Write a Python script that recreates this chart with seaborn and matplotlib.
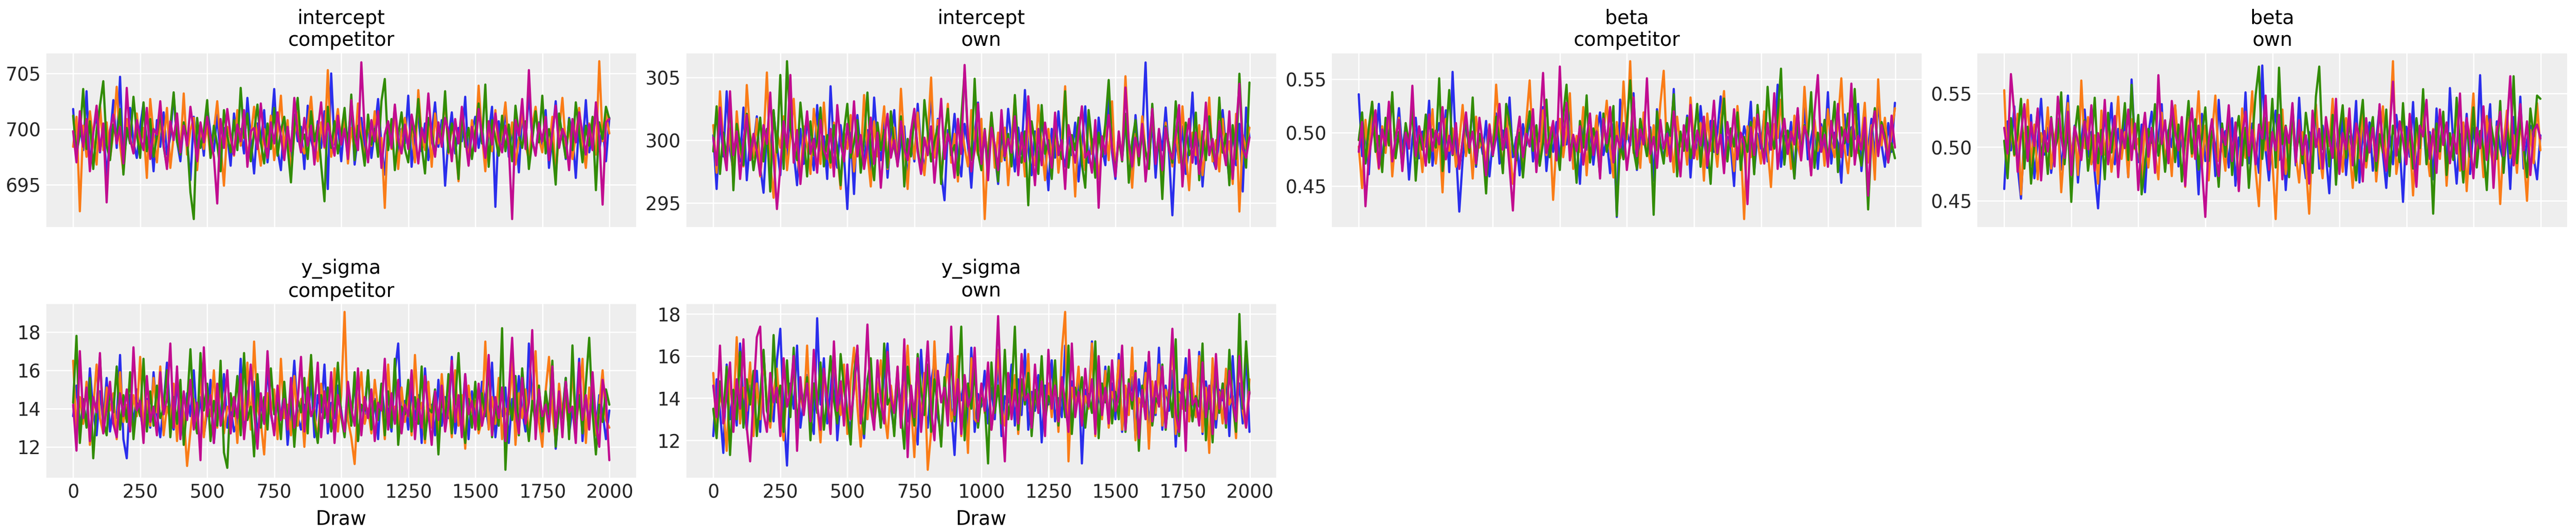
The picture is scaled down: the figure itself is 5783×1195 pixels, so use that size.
import numpy as np
import pandas as pd
import matplotlib.pyplot as plt
import seaborn as sns
from matplotlib.ticker import MultipleLocator, FormatStrFormatter

# Panel labels
PARAMS = ["intercept", "intercept", "beta", "beta", "y_sigma", "y_sigma"]
GROUPS = ["competitor", "own", "competitor", "own", "competitor", "own"]
CHAINS = [0, 1, 2, 3]
CHAIN_COLORS = ["#2a2eec", "#fa7c17", "#328c06", "#c10c90"]
DRAW_TICKS = [0, 250, 500, 750, 1000, 1250, 1500, 1750, 2000]
Y_STEPS = [5, 5, 0.05, 0.05, 2, 2]
Y_FORMATS = ["%d", "%d", "%.2f", "%.2f", "%d", "%d"]

# Trace values (about one value every 12.5 draws)
int_comp_c0 = [701.8, 697.2, 700.9, 698.1, 703.4, 696.5, 699.8, 701.2, 697.9, 700.4,
               695.8, 699.1, 702.6, 698.3, 704.7, 696.9, 699.5, 701.9, 698.8, 697.4,
               700.2, 702.3, 698.6, 699.9, 696.2, 700.8, 698.4, 701.5, 697.7, 699.3,
               703.1, 698.9, 697.1, 700.6, 699.0, 695.4, 701.1, 698.2, 700.3, 697.6,
               702.0, 699.6, 698.0, 701.3, 697.3, 700.1, 699.4, 696.7, 701.4, 698.5,
               700.0, 697.8, 702.8, 699.2, 696.0, 700.5, 698.7, 701.7, 697.0, 699.7,
               703.6, 698.1, 696.3, 700.9, 699.3, 697.5, 701.3, 698.9, 700.2, 696.4,
               702.1, 699.0, 697.9, 700.7, 698.3, 701.6, 694.6, 705.0, 698.6, 700.4,
               697.1, 700.9, 698.8, 702.2, 696.8, 699.4, 701.0, 698.2, 700.6, 697.4,
               699.9, 702.7, 698.5, 695.9, 700.3, 699.1, 701.8, 697.6, 700.0, 698.7,
               703.0, 696.6, 699.8, 701.2, 698.0, 700.5, 697.2, 699.6, 702.4, 698.4,
               700.8, 694.9, 699.2, 701.5, 697.8, 700.1, 698.9, 702.9, 696.9, 699.7,
               701.1, 698.3, 700.4, 697.0, 699.5, 702.0, 693.0, 700.7, 698.6, 701.9,
               697.5, 699.9, 700.2, 696.1, 701.4, 698.8, 703.3, 699.0, 697.7, 700.6,
               698.1, 701.7, 696.5, 699.3, 702.5, 698.4, 700.0, 697.3, 701.0, 699.6,
               695.6, 700.8, 698.2, 702.6, 697.9, 699.4, 701.3, 698.0, 700.3, 697.1, 701.0]
int_comp_c1 = [698.4, 701.1, 692.6, 700.3, 697.5, 701.6, 699.0, 696.8, 702.2, 698.1,
               700.6, 697.3, 699.7, 703.8, 698.6, 696.1, 700.9, 699.2, 697.9, 701.4,
               698.3, 700.1, 695.6, 702.7, 699.5, 697.0, 700.8, 698.8, 701.9, 696.5,
               699.4, 700.5, 698.0, 703.2, 697.7, 699.9, 701.0, 696.3, 700.2, 698.2,
               700.4, 697.4, 699.8, 702.5, 698.7, 694.9, 700.2, 699.1, 697.6, 701.7,
               698.5, 700.7, 697.6, 699.3, 702.0, 698.9, 696.7, 700.0, 698.4, 701.2,
               697.2, 699.6, 703.0, 698.1, 700.8, 696.0, 699.5, 701.5, 698.6, 697.8,
               700.3, 702.9, 699.0, 697.1, 700.6, 698.3, 705.3, 697.5, 699.7, 701.8,
               698.8, 701.3, 696.9, 700.1, 698.0, 702.3, 699.4, 697.3, 700.7, 698.5,
               701.6, 697.9, 699.2, 692.9, 700.5, 698.2, 702.1, 696.4, 699.8, 701.0,
               698.6, 700.0, 697.0, 703.5, 699.3, 698.1, 700.9, 696.6, 701.4, 698.7,
               699.6, 702.6, 697.8, 700.2, 698.9, 695.3, 701.2, 699.0, 697.4, 700.8,
               698.3, 703.9, 699.5, 696.2, 700.4, 698.0, 701.7, 697.6, 699.9, 702.4,
               698.4, 700.6, 696.8, 699.1, 701.5, 698.6, 697.2, 700.3, 702.0, 699.2,
               697.9, 700.7, 698.1, 701.1, 695.8, 699.7, 702.8, 698.5, 700.1, 697.3,
               699.4, 701.9, 698.8, 696.5, 700.5, 699.0, 697.7, 706.1, 698.9, 701.3, 699.6]
int_comp_c2 = [701.2, 697.8, 699.5, 703.6, 698.2, 700.7, 696.4, 699.9, 702.1, 704.3,
               698.5, 697.2, 700.4, 699.0, 701.8, 695.9, 700.1, 698.7, 702.9, 699.6,
               697.4, 702.4, 698.0, 700.9, 697.5, 699.3, 701.5, 698.4, 696.6, 700.2,
               703.3, 698.9, 697.7, 700.6, 699.1, 694.3, 691.9, 701.0, 698.3, 699.8,
               702.6, 697.4, 700.3, 698.6, 696.2, 701.7, 699.4, 697.9, 700.8, 698.1,
               703.7, 699.2, 701.4, 697.1, 699.7, 702.2, 698.8, 696.9, 700.5, 698.2,
               701.9, 697.6, 699.9, 701.1, 698.4, 695.2, 700.2, 702.8, 698.7, 699.5,
               697.3, 701.6, 698.9, 700.4, 696.8, 693.5, 702.0, 698.3, 700.7, 697.8,
               699.6, 701.9, 698.0, 703.1, 697.2, 700.3, 699.0, 696.7, 701.3, 698.6,
               700.0, 697.5, 702.5, 704.5, 698.1, 700.9, 696.3, 699.4, 701.5, 698.2,
               697.0, 700.6, 699.3, 702.7, 698.5, 696.0, 701.0, 699.8, 697.7, 700.2,
               698.9, 703.4, 697.9, 700.5, 699.1, 695.5, 701.8, 698.4, 700.1, 697.3,
               699.7, 702.3, 698.7, 704.0, 696.6, 700.8, 699.2, 697.6, 701.2, 698.0,
               700.4, 697.1, 702.1, 699.5, 698.3, 700.7, 696.4, 699.0, 701.6, 698.8,
               703.0, 697.8, 700.0, 698.6, 695.0, 701.4, 699.3, 697.4, 700.9, 698.1,
               702.4, 699.7, 697.0, 700.3, 698.5, 701.1, 694.5, 700.6, 699.1, 702.0, 700.9]
int_comp_c3 = [699.8, 697.0, 701.6, 698.4, 700.9, 696.2, 699.6, 702.1, 698.0, 700.5,
               693.4, 699.9, 701.3, 698.7, 700.2, 696.9, 703.7, 699.1, 697.8, 700.8,
               699.3, 698.1, 701.9, 697.3, 700.0, 699.5, 702.5, 698.6, 696.4, 700.7,
               699.0, 701.4, 697.9, 700.3, 698.5, 702.0, 699.7, 697.1, 700.6, 698.8,
               701.1, 699.2, 697.5, 693.3, 700.9, 698.3, 701.8, 699.4, 697.7, 700.4,
               698.9, 701.7, 696.6, 699.8, 700.1, 698.2, 702.3, 699.0, 697.4, 700.6,
               698.7, 701.5, 699.3, 697.2, 700.2, 698.0, 702.8, 699.6, 697.9, 701.0,
               698.5, 700.3, 696.8, 699.9, 702.4, 698.4, 700.5, 699.1, 697.6, 701.2,
               698.6, 700.0, 697.3, 702.6, 699.4, 698.1, 706.0, 699.7, 697.0, 700.8,
               698.9, 701.6, 696.5, 699.5, 700.7, 698.3, 702.2, 699.0, 697.8, 700.4,
               698.2, 701.3, 699.6, 696.9, 700.1, 698.8, 703.2, 699.2, 697.5, 700.6,
               698.4, 701.0, 699.8, 697.1, 700.9, 698.7, 702.0, 699.3, 696.7, 700.2,
               698.0, 701.8, 699.5, 697.4, 700.7, 698.6, 701.4, 699.1, 697.9, 700.3,
               698.5, 691.9, 700.8, 699.4, 702.7, 698.2, 705.3, 699.0, 697.6, 700.5,
               698.9, 701.1, 697.2, 699.7, 702.1, 698.3, 700.0, 699.2, 696.3, 700.9,
               698.8, 701.5, 699.6, 697.7, 700.4, 698.1, 702.4, 699.3, 693.2, 700.6, 700.9]

int_own_c0 = [300.4, 296.1, 301.8, 298.7, 303.9, 299.2, 297.5, 301.0, 298.3, 302.6,
              296.8, 300.1, 299.5, 301.9, 297.9, 295.8, 300.7, 298.9, 302.2, 299.6,
              297.2, 301.4, 298.5, 303.1, 299.0, 296.4, 300.9, 298.1, 301.6, 299.8,
              297.6, 302.8, 298.6, 300.3, 296.9, 304.3, 299.3, 297.8, 301.2, 298.8,
              294.5, 300.6, 295.7, 302.0, 299.1, 298.2, 300.8, 297.4, 303.4, 299.7,
              298.4, 301.5, 297.0, 300.2, 302.4, 298.0, 299.9, 301.1, 296.6, 300.5,
              298.3, 302.9, 299.4, 297.7, 300.0, 303.6, 298.9, 301.7, 297.3, 295.2,
              300.8, 299.2, 302.1, 298.6, 297.1, 301.3, 299.6, 296.2, 300.4, 303.0,
              298.7, 300.2, 297.8, 301.9, 299.0, 296.5, 300.6, 298.4, 302.5, 299.8,
              297.5, 301.0, 298.9, 304.0, 299.3, 297.2, 300.7, 298.1, 301.6, 299.5,
              296.0, 300.9, 298.6, 302.3, 299.1, 297.9, 300.3, 298.8, 301.4, 296.7,
              299.7, 302.7, 298.2, 300.1, 297.4, 301.8, 299.4, 298.0, 303.3, 299.0,
              296.9, 300.5, 298.5, 301.2, 299.9, 297.6, 302.0, 298.7, 300.4, 306.2,
              298.3, 301.5, 297.0, 300.8, 299.2, 302.6, 298.9, 294.0, 300.0, 298.4,
              301.1, 297.3, 299.6, 303.8, 298.1, 300.6, 296.3, 299.8, 301.9, 298.6,
              297.7, 300.2, 302.4, 299.3, 296.8, 300.9, 298.0, 301.3, 295.9, 302.6, 300.2]
int_own_c1 = [301.2, 297.4, 303.9, 299.8, 298.2, 300.9, 296.6, 302.3, 299.1, 297.9,
              304.4, 300.5, 298.6, 301.7, 297.1, 299.9, 305.4, 298.3, 295.4, 300.7,
              299.4, 301.9, 297.6, 300.2, 303.3, 298.8, 296.9, 301.1, 299.6, 297.3,
              302.5, 300.0, 298.1, 303.0, 299.2, 297.8, 301.4, 298.9, 296.1, 300.6,
              299.3, 302.0, 297.5, 300.3, 298.4, 303.6, 299.0, 296.3, 301.5, 298.7,
              300.1, 302.7, 297.7, 299.5, 301.0, 298.0, 304.1, 299.7, 296.1, 300.8,
              298.5, 302.2, 299.1, 297.2, 300.4, 305.0, 298.6, 301.6, 297.0, 299.8,
              302.9, 298.2, 300.5, 296.7, 301.3, 299.4, 297.9, 302.4, 300.0, 298.8,
              301.7, 293.7, 299.3, 302.1, 297.8, 300.6, 298.3, 301.0, 296.4, 299.7,
              303.5, 298.5, 300.2, 297.1, 301.8, 299.0, 298.0, 302.8, 299.6, 296.8,
              300.9, 298.6, 301.3, 297.4, 299.9, 304.3, 298.1, 300.4, 295.5, 301.6,
              299.2, 297.6, 302.2, 298.9, 300.7, 296.9, 299.5, 301.1, 298.4, 303.1,
              297.3, 300.1, 298.7, 305.1, 299.8, 296.2, 300.5, 298.0, 301.9, 299.1,
              297.7, 302.5, 298.5, 300.3, 296.6, 301.4, 299.4, 297.9, 300.8, 298.2,
              302.7, 299.0, 296.0, 300.6, 298.8, 301.2, 297.2, 299.6, 303.4, 298.3,
              300.0, 297.5, 301.7, 298.6, 299.9, 296.5, 302.1, 294.3, 300.4, 299.3, 301.0]
int_own_c2 = [299.1, 302.7, 297.3, 300.6, 298.5, 303.5, 296.0, 301.3, 299.7, 298.0,
              302.1, 300.2, 297.6, 299.4, 301.8, 298.3, 300.9, 295.9, 302.4, 299.0,
              305.2, 297.7, 306.3, 301.0, 299.6, 298.4, 303.0, 300.3, 297.1, 301.5,
              298.8, 299.9, 302.6, 297.9, 300.4, 298.2, 301.2, 299.3, 296.4, 300.7,
              302.9, 298.6, 299.8, 301.6, 297.4, 300.0, 303.8, 298.9, 296.8, 301.4,
              299.2, 300.8, 297.8, 302.3, 299.5, 298.1, 301.9, 296.3, 300.1, 298.7,
              302.0, 299.4, 297.5, 303.2, 300.6, 298.3, 299.9, 301.1, 296.5, 300.3,
              302.5, 298.8, 299.6, 297.2, 301.7, 305.5, 300.2, 298.4, 304.9, 299.0,
              297.6, 300.9, 298.0, 302.2, 299.3, 296.7, 301.3, 298.6, 300.5, 297.9,
              303.6, 299.1, 298.2, 300.7, 294.8, 301.5, 299.7, 297.3, 302.8, 298.9,
              300.0, 296.9, 301.0, 299.5, 298.5, 303.9, 297.8, 300.4, 299.2, 301.8,
              298.1, 296.2, 302.4, 299.8, 297.0, 300.6, 298.7, 301.3, 304.8, 299.4,
              297.5, 300.2, 298.3, 302.1, 296.6, 299.9, 301.6, 298.0, 300.8, 299.1,
              297.7, 302.9, 298.6, 300.3, 295.3, 301.1, 299.6, 298.2, 303.1, 300.0,
              297.2, 301.4, 298.8, 299.5, 302.2, 296.8, 300.7, 298.4, 301.9, 299.2,
              297.9, 303.4, 299.0, 300.5, 296.4, 301.2, 298.5, 305.3, 299.7, 297.8, 304.6]
int_own_c3 = [300.2, 298.0, 302.6, 299.3, 297.6, 303.9, 298.8, 300.7, 296.9, 299.9,
              302.0, 298.4, 300.5, 299.1, 297.2, 301.2, 299.7, 303.8, 298.6, 294.5,
              297.8, 301.5, 299.4, 305.2, 298.2, 300.8, 296.5, 299.6, 302.3, 298.9,
              300.1, 297.4, 301.6, 299.2, 298.5, 300.9, 297.1, 302.8, 299.8, 298.3,
              301.3, 299.0, 303.1, 298.7, 300.4, 297.7, 299.5, 301.8, 298.1, 300.6,
              296.2, 299.9, 302.1, 298.6, 300.0, 297.9, 301.5, 299.3, 298.4, 300.7,
              302.5, 299.1, 297.3, 300.2, 298.8, 301.1, 296.6, 299.7, 303.3, 298.5,
              300.5, 299.4, 297.0, 301.7, 298.9, 306.0, 300.3, 297.5, 299.2, 302.9,
              298.1, 300.8, 296.8, 301.0, 299.6, 297.6, 302.4, 298.7, 300.1, 299.0,
              301.9, 297.2, 300.6, 298.3, 303.5, 299.5, 296.4, 300.9, 298.0, 301.4,
              299.3, 297.8, 302.2, 298.8, 300.0, 296.1, 301.2, 299.7, 298.2, 300.5,
              302.7, 298.6, 299.1, 297.4, 301.6, 294.6, 300.3, 298.9, 302.0, 299.4,
              297.1, 300.7, 298.4, 304.2, 299.8, 297.9, 300.2, 298.7, 301.3, 296.7,
              299.5, 302.5, 298.1, 300.9, 297.6, 301.0, 299.2, 298.5, 300.4, 302.8,
              296.3, 299.9, 301.7, 298.2, 300.6, 297.3, 299.0, 303.0, 298.8, 300.1,
              297.7, 301.5, 299.6, 298.0, 302.3, 296.9, 300.8, 304.5, 299.3, 298.6, 300.2]

beta_comp_c0 = [0.536, 0.478, 0.503, 0.461, 0.517, 0.489, 0.527, 0.472, 0.498, 0.512,
                0.466, 0.491, 0.523, 0.483, 0.507, 0.456, 0.495, 0.514, 0.476, 0.501,
                0.487, 0.530, 0.469, 0.494, 0.509, 0.481, 0.521, 0.463, 0.557, 0.485,
                0.426, 0.474, 0.504, 0.490, 0.526, 0.468, 0.499, 0.480, 0.511, 0.459,
                0.493, 0.518, 0.471, 0.502, 0.486, 0.533, 0.477, 0.496, 0.460, 0.508,
                0.488, 0.515, 0.473, 0.500, 0.492, 0.524, 0.464, 0.497, 0.482, 0.510,
                0.475, 0.503, 0.489, 0.528, 0.467, 0.495, 0.452, 0.512, 0.484, 0.506,
                0.470, 0.499, 0.519, 0.479, 0.494, 0.462, 0.508, 0.421, 0.531, 0.476,
                0.501, 0.488, 0.537, 0.465, 0.497, 0.513, 0.480, 0.505, 0.455, 0.522,
                0.491, 0.474, 0.509, 0.484, 0.541, 0.469, 0.498, 0.486, 0.516, 0.458,
                0.503, 0.478, 0.525, 0.493, 0.467, 0.511, 0.482, 0.500, 0.534, 0.472,
                0.496, 0.487, 0.450, 0.514, 0.479, 0.506, 0.492, 0.529, 0.463, 0.499,
                0.485, 0.519, 0.473, 0.504, 0.490, 0.545, 0.468, 0.497, 0.481, 0.510,
                0.457, 0.502, 0.488, 0.523, 0.475, 0.495, 0.512, 0.466, 0.508, 0.483,
                0.538, 0.471, 0.500, 0.490, 0.453, 0.517, 0.479, 0.505, 0.494, 0.527,
                0.464, 0.498, 0.486, 0.513, 0.476, 0.532, 0.489, 0.468, 0.509, 0.482, 0.528]
beta_comp_c1 = [0.487, 0.448, 0.512, 0.475, 0.529, 0.493, 0.466, 0.506, 0.481, 0.520,
                0.459, 0.497, 0.514, 0.470, 0.502, 0.488, 0.534, 0.476, 0.495, 0.463,
                0.509, 0.485, 0.522, 0.471, 0.499, 0.444, 0.513, 0.483, 0.504, 0.468,
                0.491, 0.526, 0.478, 0.500, 0.457, 0.515, 0.486, 0.494, 0.473, 0.508,
                0.480, 0.545, 0.498, 0.465, 0.517, 0.489, 0.452, 0.474, 0.503, 0.461,
                0.511, 0.549, 0.484, 0.496, 0.469, 0.521, 0.479, 0.505, 0.437, 0.492,
                0.513, 0.477, 0.501, 0.537, 0.466, 0.497, 0.482, 0.524, 0.460, 0.506,
                0.488, 0.516, 0.473, 0.499, 0.530, 0.485, 0.458, 0.510, 0.476, 0.548,
                0.494, 0.567, 0.481, 0.503, 0.467, 0.519, 0.490, 0.472, 0.507, 0.484,
                0.527, 0.558, 0.478, 0.498, 0.463, 0.515, 0.487, 0.500, 0.470, 0.533,
                0.492, 0.475, 0.509, 0.455, 0.518, 0.483, 0.496, 0.468, 0.511, 0.539,
                0.480, 0.502, 0.464, 0.525, 0.489, 0.419, 0.506, 0.477, 0.514, 0.493,
                0.471, 0.520, 0.486, 0.449, 0.508, 0.495, 0.531, 0.479, 0.501, 0.466,
                0.516, 0.488, 0.474, 0.543, 0.497, 0.460, 0.512, 0.483, 0.505, 0.469,
                0.522, 0.490, 0.477, 0.510, 0.551, 0.485, 0.462, 0.499, 0.517, 0.481,
                0.494, 0.528, 0.472, 0.507, 0.456, 0.550, 0.488, 0.514, 0.476, 0.500, 0.523]
beta_comp_c2 = [0.493, 0.519, 0.471, 0.505, 0.529, 0.482, 0.497, 0.463, 0.514, 0.488,
                0.538, 0.476, 0.501, 0.467, 0.509, 0.490, 0.523, 0.455, 0.498, 0.484,
                0.517, 0.472, 0.503, 0.486, 0.551, 0.464, 0.495, 0.540, 0.479, 0.506,
                0.468, 0.492, 0.512, 0.481, 0.533, 0.470, 0.499, 0.487, 0.443, 0.504,
                0.478, 0.515, 0.494, 0.462, 0.527, 0.510, 0.485, 0.474, 0.500, 0.458,
                0.496, 0.520, 0.483, 0.507, 0.469, 0.491, 0.531, 0.477, 0.502, 0.489,
                0.465, 0.516, 0.545, 0.480, 0.497, 0.453, 0.511, 0.486, 0.535, 0.472,
                0.504, 0.492, 0.460, 0.518, 0.482, 0.499, 0.525, 0.422, 0.490, 0.475,
                0.508, 0.549, 0.484, 0.466, 0.513, 0.495, 0.478, 0.503, 0.423, 0.520,
                0.488, 0.471, 0.509, 0.497, 0.536, 0.459, 0.501, 0.483, 0.514, 0.476,
                0.494, 0.527, 0.468, 0.506, 0.489, 0.452, 0.511, 0.480, 0.498, 0.532,
                0.473, 0.504, 0.487, 0.519, 0.465, 0.496, 0.482, 0.510, 0.461, 0.526,
                0.491, 0.477, 0.543, 0.499, 0.485, 0.515, 0.560, 0.470, 0.502, 0.488,
                0.457, 0.521, 0.479, 0.507, 0.493, 0.538, 0.467, 0.500, 0.484, 0.512,
                0.474, 0.496, 0.529, 0.463, 0.505, 0.490, 0.518, 0.478, 0.541, 0.486,
                0.469, 0.503, 0.428, 0.495, 0.523, 0.481, 0.510, 0.497, 0.472, 0.490, 0.476]
beta_comp_c3 = [0.482, 0.510, 0.431, 0.476, 0.498, 0.521, 0.467, 0.503, 0.488, 0.529,
                0.473, 0.495, 0.512, 0.464, 0.500, 0.485, 0.544, 0.478, 0.506, 0.491,
                0.469, 0.517, 0.483, 0.502, 0.489, 0.524, 0.475, 0.497, 0.480, 0.509,
                0.466, 0.493, 0.519, 0.486, 0.501, 0.471, 0.514, 0.490, 0.460, 0.507,
                0.479, 0.496, 0.527, 0.484, 0.504, 0.468, 0.427, 0.492, 0.515, 0.477,
                0.499, 0.487, 0.522, 0.463, 0.505, 0.556, 0.481, 0.494, 0.511, 0.474,
                0.562, 0.488, 0.528, 0.474, 0.498, 0.483, 0.506, 0.470, 0.495, 0.518,
                0.479, 0.501, 0.457, 0.513, 0.490, 0.524, 0.472, 0.497, 0.486, 0.509,
                0.465, 0.492, 0.533, 0.478, 0.503, 0.489, 0.551, 0.480, 0.496, 0.467,
                0.512, 0.485, 0.499, 0.473, 0.520, 0.491, 0.459, 0.507, 0.483, 0.526,
                0.476, 0.502, 0.488, 0.515, 0.469, 0.494, 0.530, 0.481, 0.498, 0.462,
                0.510, 0.487, 0.522, 0.475, 0.500, 0.490, 0.433, 0.505, 0.479, 0.517,
                0.492, 0.471, 0.509, 0.484, 0.537, 0.466, 0.496, 0.513, 0.480, 0.501,
                0.489, 0.523, 0.474, 0.506, 0.495, 0.460, 0.519, 0.554, 0.482, 0.498,
                0.468, 0.511, 0.486, 0.527, 0.477, 0.503, 0.491, 0.546, 0.470, 0.497,
                0.484, 0.514, 0.441, 0.499, 0.520, 0.478, 0.507, 0.493, 0.472, 0.516, 0.486]

beta_own_c0 = [0.461, 0.524, 0.497, 0.538, 0.482, 0.452, 0.513, 0.489, 0.530, 0.471,
               0.506, 0.545, 0.493, 0.518, 0.476, 0.502, 0.526, 0.479, 0.511, 0.548,
               0.487, 0.520, 0.467, 0.504, 0.535, 0.491, 0.514, 0.476, 0.443, 0.498,
               0.527, 0.509, 0.541, 0.484, 0.517, 0.495, 0.529, 0.472, 0.563, 0.503,
               0.486, 0.521, 0.458, 0.512, 0.533, 0.490, 0.508, 0.540, 0.478, 0.516,
               0.500, 0.539, 0.482, 0.513, 0.468, 0.524, 0.494, 0.510, 0.456, 0.531,
               0.487, 0.505, 0.519, 0.473, 0.544, 0.499, 0.515, 0.481, 0.527, 0.464,
               0.509, 0.492, 0.551, 0.485, 0.522, 0.501, 0.476, 0.576, 0.497, 0.469,
               0.511, 0.534, 0.488, 0.517, 0.460, 0.503, 0.528, 0.483, 0.546, 0.495,
               0.471, 0.514, 0.506, 0.539, 0.480, 0.520, 0.492, 0.457, 0.525, 0.501,
               0.486, 0.532, 0.474, 0.510, 0.498, 0.543, 0.467, 0.516, 0.489, 0.523,
               0.478, 0.507, 0.537, 0.494, 0.462, 0.513, 0.484, 0.530, 0.502, 0.449,
               0.519, 0.491, 0.542, 0.477, 0.508, 0.526, 0.485, 0.514, 0.470, 0.536,
               0.497, 0.521, 0.481, 0.555, 0.503, 0.466, 0.512, 0.489, 0.531, 0.475,
               0.518, 0.496, 0.567, 0.483, 0.509, 0.540, 0.472, 0.524, 0.499, 0.487,
               0.515, 0.461, 0.528, 0.493, 0.547, 0.480, 0.506, 0.520, 0.490, 0.470, 0.511]
beta_own_c1 = [0.553, 0.476, 0.518, 0.492, 0.531, 0.456, 0.507, 0.544, 0.483, 0.521,
               0.470, 0.513, 0.496, 0.537, 0.480, 0.509, 0.525, 0.458, 0.502, 0.541,
               0.488, 0.516, 0.474, 0.562, 0.499, 0.528, 0.484, 0.511, 0.466, 0.534,
               0.493, 0.519, 0.477, 0.505, 0.547, 0.489, 0.514, 0.472, 0.526, 0.498,
               0.508, 0.466, 0.523, 0.481, 0.515, 0.495, 0.470, 0.532, 0.486, 0.510,
               0.473, 0.539, 0.500, 0.517, 0.463, 0.527, 0.491, 0.506, 0.552, 0.482,
               0.520, 0.469, 0.512, 0.548, 0.487, 0.503, 0.478, 0.529, 0.494, 0.515,
               0.460, 0.536, 0.490, 0.507, 0.552, 0.479, 0.445, 0.518, 0.497, 0.523,
               0.488, 0.433, 0.511, 0.535, 0.475, 0.504, 0.524, 0.492, 0.467, 0.514,
               0.483, 0.438, 0.509, 0.540, 0.496, 0.471, 0.519, 0.501, 0.545, 0.485,
               0.512, 0.477, 0.527, 0.499, 0.462, 0.516, 0.490, 0.533, 0.481, 0.507,
               0.522, 0.468, 0.502, 0.538, 0.486, 0.513, 0.580, 0.475, 0.497, 0.526,
               0.491, 0.510, 0.455, 0.521, 0.484, 0.543, 0.500, 0.473, 0.517, 0.505,
               0.489, 0.530, 0.464, 0.512, 0.495, 0.537, 0.478, 0.523, 0.459, 0.508,
               0.550, 0.487, 0.515, 0.472, 0.529, 0.498, 0.482, 0.519, 0.447, 0.504,
               0.534, 0.490, 0.511, 0.476, 0.525, 0.493, 0.450, 0.516, 0.485, 0.541, 0.497]
beta_own_c2 = [0.506, 0.471, 0.527, 0.493, 0.512, 0.545, 0.480, 0.519, 0.466, 0.503,
               0.534, 0.489, 0.514, 0.475, 0.528, 0.497, 0.509, 0.551, 0.484, 0.520,
               0.449, 0.511, 0.538, 0.490, 0.525, 0.478, 0.502, 0.546, 0.485, 0.516,
               0.470, 0.532, 0.495, 0.524, 0.481, 0.507, 0.541, 0.488, 0.558, 0.499,
               0.530, 0.456, 0.483, 0.517, 0.504, 0.540, 0.492, 0.513, 0.477, 0.513,
               0.533, 0.486, 0.521, 0.468, 0.508, 0.543, 0.494, 0.526, 0.479, 0.511,
               0.537, 0.487, 0.515, 0.500, 0.463, 0.522, 0.491, 0.535, 0.474, 0.510,
               0.529, 0.483, 0.518, 0.462, 0.506, 0.548, 0.575, 0.489, 0.527, 0.496,
               0.545, 0.481, 0.574, 0.503, 0.520, 0.472, 0.538, 0.493, 0.512, 0.485,
               0.532, 0.508, 0.476, 0.547, 0.575, 0.498, 0.519, 0.482, 0.530, 0.465,
               0.514, 0.539, 0.490, 0.523, 0.501, 0.469, 0.517, 0.544, 0.487, 0.509,
               0.528, 0.478, 0.512, 0.495, 0.535, 0.473, 0.520, 0.505, 0.486, 0.541,
               0.492, 0.516, 0.480, 0.527, 0.499, 0.554, 0.484, 0.511, 0.438, 0.522,
               0.496, 0.533, 0.474, 0.513, 0.488, 0.546, 0.503, 0.467, 0.524, 0.491,
               0.537, 0.481, 0.515, 0.498, 0.460, 0.526, 0.507, 0.489, 0.543, 0.476,
               0.518, 0.494, 0.566, 0.485, 0.529, 0.500, 0.472, 0.536, 0.510, 0.548, 0.545]
beta_own_c3 = [0.518, 0.494, 0.568, 0.531, 0.477, 0.512, 0.540, 0.487, 0.523, 0.501,
               0.536, 0.469, 0.515, 0.496, 0.527, 0.482, 0.547, 0.509, 0.490, 0.533,
               0.474, 0.519, 0.505, 0.488, 0.524, 0.498, 0.539, 0.478, 0.513, 0.493,
               0.544, 0.484, 0.510, 0.529, 0.472, 0.516, 0.499, 0.535, 0.488, 0.522,
               0.460, 0.507, 0.532, 0.491, 0.518, 0.476, 0.567, 0.503, 0.525, 0.485,
               0.543, 0.514, 0.497, 0.528, 0.464, 0.511, 0.536, 0.489, 0.520, 0.481,
               0.435, 0.506, 0.526, 0.495, 0.473, 0.517, 0.502, 0.539, 0.487, 0.523,
               0.459, 0.512, 0.533, 0.492, 0.516, 0.484, 0.521, 0.508, 0.548, 0.479,
               0.514, 0.497, 0.530, 0.470, 0.519, 0.504, 0.541, 0.486, 0.525, 0.493,
               0.511, 0.466, 0.534, 0.500, 0.517, 0.480, 0.528, 0.507, 0.490, 0.545,
               0.475, 0.513, 0.498, 0.536, 0.483, 0.522, 0.509, 0.468, 0.527, 0.495,
               0.518, 0.487, 0.540, 0.501, 0.478, 0.515, 0.561, 0.492, 0.524, 0.506,
               0.484, 0.531, 0.497, 0.463, 0.520, 0.510, 0.544, 0.489, 0.516, 0.476,
               0.535, 0.502, 0.523, 0.485, 0.512, 0.494, 0.550, 0.479, 0.527, 0.505,
               0.471, 0.518, 0.499, 0.538, 0.488, 0.526, 0.462, 0.514, 0.533, 0.492,
               0.519, 0.566, 0.483, 0.508, 0.540, 0.497, 0.524, 0.474, 0.515, 0.521, 0.508]

sig_comp_c0 = [13.6, 15.2, 12.9, 14.4, 13.1, 16.1, 13.8, 12.6, 14.9, 13.3,
               15.6, 12.8, 14.1, 13.5, 16.8, 12.4, 11.4, 14.7, 13.2, 15.0,
               13.9, 12.7, 14.5, 13.0, 15.9, 13.7, 12.5, 14.2, 16.4, 13.4,
               12.9, 15.3, 14.0, 12.3, 14.8, 13.6, 16.0, 13.1, 14.6, 12.6,
               13.8, 15.5, 12.2, 14.3, 13.5, 15.8, 13.0, 14.1, 12.8, 13.3,
               16.6, 12.7, 14.9, 13.9, 15.4, 12.4, 14.4, 13.2, 16.2, 13.7,
               12.8, 14.6, 13.4, 15.1, 12.1, 14.0, 16.5, 13.6, 12.9, 14.2,
               13.1, 15.7, 12.5, 14.7, 13.8, 16.3, 12.7, 14.3, 13.5, 15.2,
               13.9, 12.6, 14.8, 13.3, 15.6, 12.3, 14.1, 13.7, 16.0, 13.0,
               14.5, 12.4, 15.3, 13.6, 14.0, 12.8, 15.9, 17.4, 13.2, 14.4,
               12.9, 15.0, 13.4, 14.7, 12.2, 16.1, 13.8, 14.2, 12.6, 15.5,
               13.1, 14.6, 13.5, 16.7, 12.7, 14.0, 13.3, 15.8, 12.4, 14.9,
               13.7, 12.9, 15.4, 14.3, 13.0, 16.4, 12.5, 14.1, 13.6, 15.1,
               12.2, 14.5, 13.2, 15.7, 13.9, 12.8, 17.4, 14.4, 13.4, 15.0,
               12.6, 14.8, 13.1, 16.2, 11.9, 14.2, 13.7, 15.6, 12.7, 14.0,
               13.5, 16.6, 12.3, 14.6, 13.3, 15.3, 12.9, 14.7, 13.8, 12.4, 13.9]
sig_comp_c1 = [16.5, 12.8, 14.6, 13.2, 15.4, 12.1, 14.0, 16.3, 13.5, 12.7,
               15.1, 13.9, 14.8, 12.4, 15.9, 13.3, 14.2, 12.9, 14.7, 13.6,
               16.7, 12.9, 14.4, 13.1, 15.6, 13.8, 16.2, 12.6, 14.1, 13.4,
               15.3, 12.3, 14.9, 13.7, 11.0, 12.8, 14.5, 13.2, 15.8, 12.5,
               14.3, 13.6, 16.0, 13.0, 15.5, 12.7, 14.1, 13.9, 14.6, 12.2,
               15.2, 13.4, 16.4, 12.9, 17.5, 14.0, 13.3, 11.6, 14.8, 13.7,
               15.0, 12.4, 16.6, 13.5, 14.2, 12.6, 15.7, 13.1, 14.5, 12.0,
               14.9, 16.7, 13.8, 12.3, 15.3, 13.6, 14.4, 13.0, 16.1, 12.8,
               14.7, 19.05, 13.4, 12.5, 11.1, 14.3, 15.9, 13.2, 14.0, 12.7,
               15.5, 13.9, 14.6, 12.4, 16.3, 13.5, 14.1, 12.9, 15.1, 13.3,
               14.8, 12.6, 16.8, 13.7, 14.3, 12.2, 15.4, 13.0, 14.9, 12.8,
               15.8, 13.6, 14.2, 12.5, 16.0, 13.1, 14.7, 11.9, 15.2, 13.8,
               14.4, 12.7, 13.4, 17.5, 12.9, 14.6, 13.2, 15.6, 12.4, 14.0,
               13.7, 16.5, 12.1, 14.8, 13.5, 15.0, 12.6, 14.3, 17.0, 13.3,
               12.0, 14.9, 16.7, 13.8, 12.3, 15.3, 13.6, 14.4, 12.8, 16.2,
               13.0, 14.5, 16.6, 12.2, 15.1, 13.9, 12.6, 14.2, 16.0, 13.4, 13.0]
sig_comp_c2 = [14.3, 17.8, 12.2, 14.5, 13.0, 15.6, 11.4, 14.1, 16.7, 13.4,
               12.6, 15.0, 13.8, 16.2, 12.9, 14.7, 13.3, 15.9, 12.4, 14.3,
               13.6, 16.6, 12.8, 14.9, 13.1, 15.2, 13.5, 14.0, 16.0, 12.5,
               14.6, 13.2, 15.5, 12.1, 14.2, 17.1, 13.7, 12.7, 16.9, 13.9,
               15.3, 12.3, 14.4, 13.1, 16.5, 11.7, 10.9, 14.8, 13.6, 15.7,
               12.6, 16.9, 13.4, 14.1, 11.5, 15.8, 13.0, 14.6, 12.9, 16.1,
               13.7, 14.3, 12.4, 15.4, 13.2, 14.9, 12.0, 14.5, 13.8, 15.6,
               12.7, 16.8, 13.3, 12.2, 14.7, 13.5, 15.1, 12.8, 14.0, 16.4,
               13.6, 12.5, 14.8, 13.1, 15.9, 12.3, 14.2, 13.9, 16.0, 12.9,
               14.4, 13.4, 15.3, 12.6, 14.9, 13.0, 16.6, 12.1, 14.1, 13.7,
               15.5, 12.8, 14.6, 13.2, 16.2, 12.4, 14.0, 13.8, 15.0, 11.6,
               14.7, 13.3, 15.8, 12.7, 14.3, 16.9, 13.5, 12.2, 14.5, 13.0,
               15.4, 12.9, 14.8, 13.6, 16.3, 12.5, 14.2, 13.1, 18.2, 10.8,
               14.6, 13.4, 15.7, 12.6, 16.1, 13.9, 12.3, 14.4, 13.2, 15.2,
               12.8, 14.9, 13.7, 16.5, 12.0, 14.1, 13.5, 15.6, 12.4, 17.3,
               13.0, 14.7, 12.7, 15.3, 17.7, 13.8, 11.6, 14.2, 13.3, 15.0, 14.2]
sig_comp_c3 = [14.2, 11.8, 17.0, 13.5, 15.1, 12.3, 14.6, 13.8, 16.9, 12.7,
               14.0, 15.4, 13.2, 12.5, 14.8, 13.6, 15.0, 12.8, 17.2, 13.9,
               14.4, 12.2, 15.7, 13.3, 14.1, 12.6, 15.9, 13.7, 14.5, 17.4,
               13.0, 16.2, 12.4, 14.9, 13.4, 15.5, 12.9, 14.3, 11.3, 17.2,
               13.6, 14.7, 12.2, 15.3, 13.1, 14.0, 16.0, 12.7, 14.6, 13.5,
               15.8, 12.4, 14.2, 16.3, 13.8, 11.9, 14.8, 13.2, 17.0, 13.9,
               12.6, 15.2, 13.4, 14.5, 12.9, 15.6, 13.0, 14.4, 16.7, 12.8,
               15.1, 13.6, 14.1, 16.4, 12.5, 14.9, 13.3, 15.9, 12.2, 14.7,
               13.7, 12.8, 15.4, 14.0, 13.1, 16.1, 12.6, 14.6, 13.5, 15.0,
               12.3, 14.3, 13.9, 16.6, 12.9, 14.8, 13.2, 15.5, 12.7, 14.2,
               13.6, 16.0, 12.4, 14.5, 13.0, 15.7, 13.8, 12.1, 14.9, 13.4,
               15.2, 12.8, 14.1, 16.5, 13.3, 14.7, 12.5, 15.8, 13.7, 14.4,
               12.9, 15.3, 13.1, 14.0, 16.8, 12.6, 14.6, 13.5, 15.1, 12.3,
               14.8, 17.7, 13.9, 12.7, 15.6, 13.2, 14.3, 18.1, 12.4, 15.0,
               13.6, 14.2, 12.8, 16.2, 13.0, 14.9, 12.5, 15.4, 13.8, 14.1,
               12.2, 16.4, 13.4, 14.7, 12.9, 15.9, 13.3, 12.0, 15.5, 14.5, 11.3]

sig_own_c0 = [12.2, 14.9, 13.4, 11.4, 15.6, 13.0, 14.3, 12.7, 16.6, 13.8,
              12.5, 14.6, 13.2, 15.3, 12.4, 16.2, 13.6, 14.1, 12.9, 15.8,
              17.3, 13.3, 10.8, 14.7, 13.5, 16.5, 12.6, 14.0, 15.1, 13.1,
              12.3, 17.8, 13.7, 15.9, 12.8, 14.4, 16.2, 12.0, 13.9, 15.4,
              13.2, 12.5, 14.6, 16.0, 13.4, 12.1, 14.9, 15.6, 13.0, 14.2,
              12.7, 15.2, 16.6, 13.6, 12.4, 14.5, 13.8, 15.5, 12.9, 14.0,
              13.3, 11.8, 16.3, 13.7, 12.6, 14.8, 15.7, 13.1, 12.3, 14.4,
              16.1, 13.5, 11.3, 14.7, 13.9, 15.0, 12.6, 16.4, 12.4, 14.2,
              13.6, 15.3, 12.8, 14.5, 13.0, 16.0, 12.2, 14.1, 13.8, 15.6,
              12.7, 14.9, 13.2, 16.3, 12.5, 14.3, 13.4, 15.1, 11.9, 14.6,
              13.7, 15.8, 12.9, 14.0, 13.1, 16.5, 12.3, 14.8, 13.5, 15.2,
              10.9, 14.4, 13.9, 16.7, 12.6, 14.2, 13.3, 15.5, 12.8, 14.7,
              13.0, 16.1, 12.4, 14.5, 13.6, 15.0, 12.1, 14.9, 13.8, 15.7,
              12.7, 14.1, 13.2, 16.4, 12.5, 14.6, 13.4, 15.3, 11.7, 14.3,
              13.7, 15.9, 12.9, 14.0, 13.1, 16.2, 12.3, 14.8, 13.5, 15.4,
              12.6, 14.4, 13.9, 15.1, 12.2, 16.0, 13.3, 14.7, 12.8, 16.4, 12.4]
sig_own_c1 = [15.2, 12.4, 14.1, 13.6, 11.5, 15.0, 13.2, 16.9, 12.8, 14.5,
              13.4, 15.7, 12.2, 14.7, 13.0, 16.1, 13.8, 12.6, 14.3, 15.4,
              13.1, 12.0, 14.9, 13.5, 15.9, 12.7, 14.2, 13.3, 16.5, 12.9,
              14.6, 13.7, 11.9, 15.1, 13.9, 12.5, 16.2, 14.0, 13.2, 15.6,
              12.3, 14.8, 16.4, 13.6, 11.7, 14.4, 13.0, 15.3, 12.8, 14.1,
              15.8, 13.4, 12.1, 14.6, 13.3, 15.5, 12.6, 14.2, 16.5, 13.8,
              11.2, 14.9, 13.1, 15.2, 10.6, 12.4, 16.7, 13.5, 11.9, 14.3,
              15.6, 12.9, 13.7, 16.0, 12.2, 14.5, 11.4, 15.9, 13.0, 12.8,
              14.6, 13.3, 15.4, 12.5, 14.0, 16.3, 13.6, 12.7, 14.8, 13.2,
              15.1, 12.3, 14.4, 13.9, 16.1, 12.6, 14.2, 13.4, 15.7, 12.9,
              14.7, 13.1, 15.0, 12.4, 16.2, 18.1, 11.0, 14.5, 13.7, 15.5,
              12.8, 14.1, 13.5, 16.6, 12.2, 14.9, 13.0, 15.3, 12.6, 14.3,
              13.8, 15.8, 12.5, 14.6, 13.2, 16.4, 12.0, 14.0, 13.6, 15.2,
              11.6, 14.8, 13.3, 15.6, 12.7, 14.4, 13.9, 16.8, 12.3, 14.2,
              13.5, 15.1, 12.9, 14.7, 13.1, 16.0, 12.4, 14.5, 11.4, 15.9,
              13.0, 14.3, 12.8, 15.4, 13.7, 14.1, 12.1, 16.3, 13.4, 12.6, 14.9]
sig_own_c2 = [13.5, 12.1, 14.8, 13.2, 15.5, 11.3, 14.4, 13.0, 16.2, 12.6,
              14.9, 13.7, 15.3, 12.2, 14.1, 16.3, 13.4, 12.9, 17.0, 13.8,
              14.6, 12.4, 15.8, 13.1, 16.4, 12.7, 14.3, 13.6, 15.0, 12.0,
              14.7, 13.3, 15.7, 12.5, 14.0, 16.0, 13.9, 12.8, 16.1, 14.5,
              13.2, 11.8, 15.2, 16.4, 13.5, 12.3, 14.8, 15.9, 13.0, 14.2,
              12.6, 16.6, 13.7, 14.1, 12.2, 15.1, 13.4, 11.6, 15.5, 13.8,
              12.7, 16.1, 14.4, 13.2, 15.6, 12.4, 14.9, 13.6, 11.7, 15.0,
              13.1, 16.2, 12.9, 14.3, 17.4, 12.0, 14.7, 13.5, 15.4, 12.6,
              14.0, 13.8, 10.9, 15.7, 13.3, 14.6, 12.8, 16.3, 13.0, 14.2,
              17.4, 12.5, 14.9, 13.7, 15.2, 12.2, 14.4, 13.4, 16.0, 12.9,
              14.1, 13.6, 15.8, 12.7, 14.8, 13.1, 16.5, 12.3, 14.5, 13.9,
              15.0, 12.6, 14.2, 13.3, 16.7, 12.1, 14.7, 13.8, 15.5, 12.8,
              14.3, 13.0, 16.2, 12.4, 14.9, 13.5, 15.3, 11.5, 14.6, 13.2,
              16.1, 12.7, 14.0, 13.7, 15.6, 12.5, 14.4, 13.1, 16.8, 12.2,
              14.8, 13.4, 15.1, 12.9, 14.1, 13.6, 16.6, 12.0, 14.5, 11.9,
              15.4, 13.3, 14.7, 12.6, 16.3, 13.8, 12.4, 18.0, 13.5, 16.7, 14.2]
sig_own_c3 = [14.6, 13.1, 16.5, 12.8, 14.2, 15.7, 12.4, 14.9, 13.5, 16.8,
              12.6, 11.0, 14.1, 16.9, 17.4, 13.3, 12.4, 15.2, 13.8, 14.5,
              12.2, 15.9, 13.6, 14.3, 16.0, 11.5, 15.0, 13.2, 14.7, 12.9,
              16.3, 13.7, 12.5, 15.4, 14.0, 12.3, 16.7, 13.4, 14.8, 12.7,
              15.6, 13.0, 14.4, 16.5, 12.8, 14.2, 17.5, 13.6, 12.5, 15.8,
              13.9, 12.8, 16.2, 14.0, 13.3, 15.5, 12.6, 16.8, 11.2, 14.6,
              13.1, 15.9, 12.4, 14.3, 16.7, 13.5, 12.0, 15.3, 13.8, 14.5,
              12.7, 17.4, 13.2, 14.9, 12.3, 15.1, 13.6, 14.1, 16.4, 12.9,
              14.7, 13.4, 15.7, 12.5, 14.0, 17.9, 13.7, 11.0, 15.2, 13.0,
              14.4, 12.8, 16.1, 13.9, 14.2, 12.6, 15.6, 13.3, 14.8, 12.2,
              16.3, 13.5, 14.6, 12.9, 15.0, 13.8, 12.4, 16.6, 13.1, 14.3,
              12.7, 15.4, 13.6, 14.9, 12.3, 16.0, 13.2, 14.5, 12.8, 15.8,
              13.4, 14.1, 16.5, 12.5, 14.7, 13.9, 15.2, 12.1, 14.4, 13.0,
              16.2, 12.9, 14.8, 13.6, 15.5, 12.6, 14.2, 17.3, 13.3, 12.4,
              14.9, 11.5, 16.3, 13.7, 14.0, 12.7, 15.7, 13.1, 14.6, 12.3,
              16.1, 13.5, 14.4, 12.8, 15.3, 13.8, 12.9, 16.0, 14.1, 12.6, 14.3]

TRACES = [
    [int_comp_c0, int_comp_c1, int_comp_c2, int_comp_c3],
    [int_own_c0, int_own_c1, int_own_c2, int_own_c3],
    [beta_comp_c0, beta_comp_c1, beta_comp_c2, beta_comp_c3],
    [beta_own_c0, beta_own_c1, beta_own_c2, beta_own_c3],
    [sig_comp_c0, sig_comp_c1, sig_comp_c2, sig_comp_c3],
    [sig_own_c0, sig_own_c1, sig_own_c2, sig_own_c3],
]

# Figure geometry in pixels (matches the 5783x1195 reference)
DPI = 300
FIG_W, FIG_H = 5783, 1195
AX_LEFT_PX = [104, 1541, 2990, 4439]
AX_W_PX = 1324
AX_H_PX = 390
ROW_BOTTOM_PX = [685, 122]

sns.set_style("darkgrid", {"axes.facecolor": "#eeeeee", "grid.color": "white"})
plt.rcParams["font.family"] = ["DejaVu Sans"]
plt.rcParams["font.size"] = 10
plt.rcParams["grid.linewidth"] = 0.7

fig, axes = plt.subplots(2, 4, figsize=((FIG_W + 0.3) / DPI, (FIG_H + 0.3) / DPI),
                         dpi=DPI, sharex=True)

for r in range(2):
    for c in range(4):
        axes[r, c].set_position([AX_LEFT_PX[c] / FIG_W, ROW_BOTTOM_PX[r] / FIG_H,
                                 AX_W_PX / FIG_W, AX_H_PX / FIG_H])

axes[1, 2].remove()
axes[1, 3].remove()
panel_axes = [axes[0, 0], axes[0, 1], axes[0, 2], axes[0, 3], axes[1, 0], axes[1, 1]]

for i, ax in enumerate(panel_axes):
    frames = []
    for ch, vals in zip(CHAINS, TRACES[i]):
        draws = np.linspace(0, 1999, len(vals))
        frames.append(pd.DataFrame({"draw": draws, "value": vals, "chain": ch}))
    df = pd.concat(frames, ignore_index=True)

    sns.lineplot(data=df, x="draw", y="value", hue="chain", hue_order=CHAINS,
                 palette=CHAIN_COLORS, estimator=None, sort=False,
                 linewidth=1.2, legend=False, ax=ax)

    ax.set_title(f"{PARAMS[i]}\n{GROUPS[i]}", fontsize=10.5, pad=4, color="black")
    ax.set_xlabel("Draw", fontsize=10.5, labelpad=4, color="black")
    ax.set_ylabel("")
    ax.yaxis.set_major_locator(MultipleLocator(Y_STEPS[i]))
    ax.yaxis.set_major_formatter(FormatStrFormatter(Y_FORMATS[i]))
    ax.set_xticks(DRAW_TICKS)
    ax.tick_params(axis="both", length=0, pad=3, labelsize=10, colors="#262626")
    for s in ax.spines.values():
        s.set_visible(False)

for ax in panel_axes[:4]:
    ax.tick_params(axis="x", labelbottom=False)
for ax in panel_axes[4:]:
    ax.tick_params(axis="x", labelbottom=True)

fig.savefig("out.png", dpi=DPI)
